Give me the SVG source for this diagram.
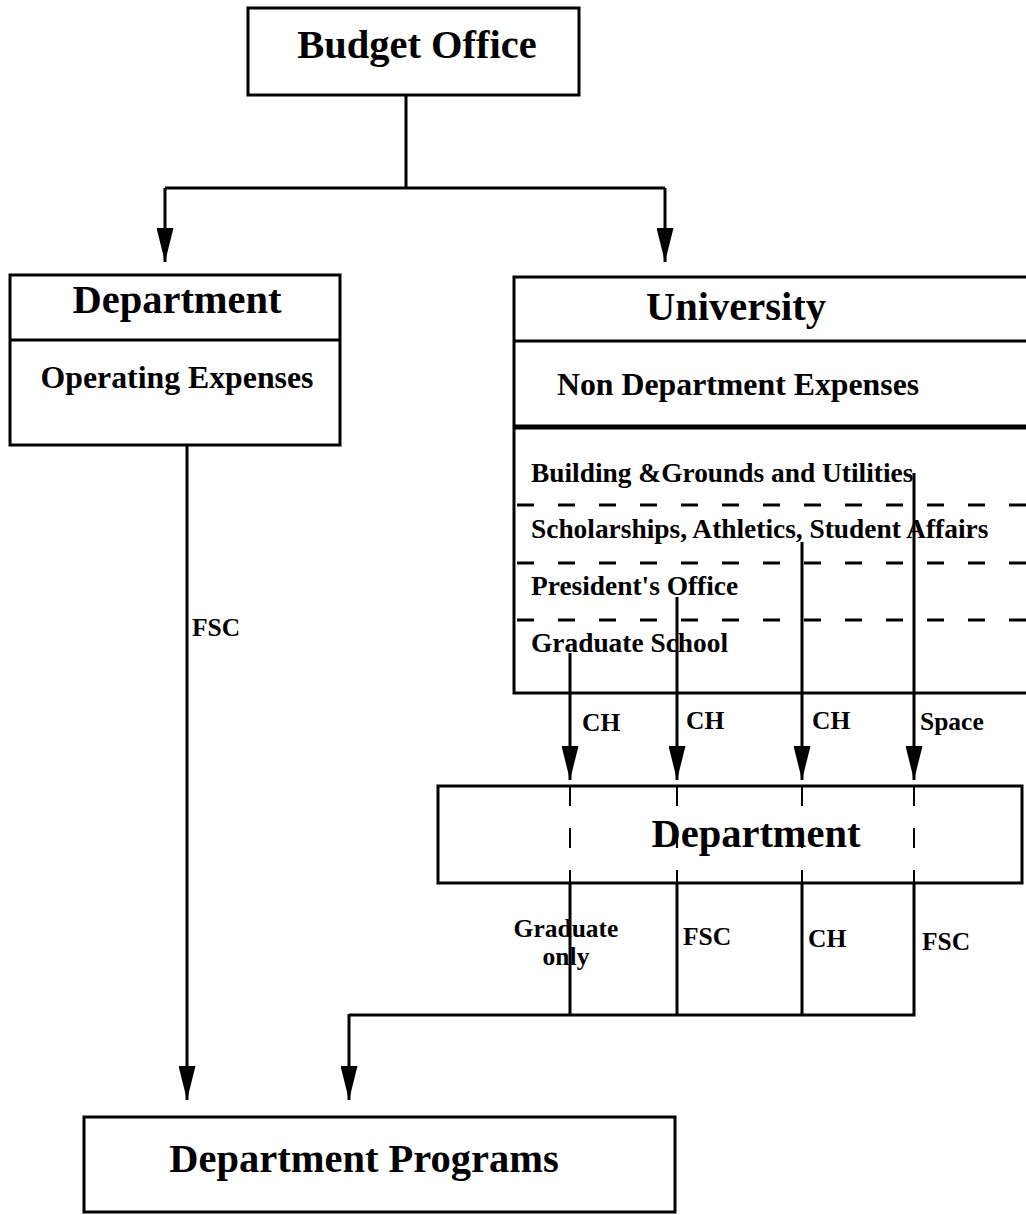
<svg xmlns="http://www.w3.org/2000/svg" width="1026" height="1215" viewBox="0 0 1026 1215">
<style>
  .box { fill: #fff; stroke: #000; stroke-width: 3; }
  .ln { fill: none; stroke: #000; stroke-width: 3; }
  .dash { fill: none; stroke: #000; stroke-width: 3; stroke-dasharray: 17 24; }
  .vdash { fill: none; stroke: #000; stroke-width: 2; stroke-dasharray: 20 22; }
  text { font-family: "Liberation Serif", "Times New Roman", serif; font-weight: bold; fill: #000; }
  .big { font-size: 40.5px; }
  .mid { font-size: 31.8px; }
  .sm { font-size: 27.4px; }
  .lab { font-size: 25.5px; }
</style>
<defs>
  <marker id="ah" markerUnits="userSpaceOnUse" markerWidth="34" markerHeight="17" refX="34" refY="8.5" orient="auto" viewBox="0 0 34 17">
    <path d="M0,0 L34,8.5 L0,17 z" fill="#000"/>
  </marker>
</defs>
<rect width="1026" height="1215" fill="#fff"/>

<g id="budget-office">
  <rect class="box" x="248" y="8" width="331" height="87"/>
  <text class="big" x="417" y="58" text-anchor="middle">Budget Office</text>
</g>

<g id="department-left">
  <rect class="box" x="10" y="275" width="330" height="170"/>
  <line class="ln" x1="10" y1="340" x2="340" y2="340"/>
  <text class="big" x="177" y="313" text-anchor="middle">Department</text>
  <text class="mid" x="177" y="388" text-anchor="middle">Operating Expenses</text>
</g>

<g id="university">
  <rect class="box" x="514" y="277" width="520" height="416"/>
  <line class="ln" x1="514" y1="341" x2="1030" y2="341"/>
  <line class="ln" x1="514" y1="427" x2="1030" y2="427" style="stroke-width:5"/>
  <line class="dash" x1="517" y1="505" x2="1030" y2="505"/>
  <line class="dash" x1="517" y1="563" x2="1030" y2="563"/>
  <line class="dash" x1="517" y1="620" x2="1030" y2="620"/>
  <text class="big" x="736" y="320" text-anchor="middle">University</text>
  <text class="mid" x="557" y="395">Non Department Expenses</text>
  <text class="sm" x="531" y="482">Building &amp;Grounds and Utilities</text>
  <text class="sm" x="531" y="538">Scholarships, Athletics, Student Affairs</text>
  <text class="sm" x="531" y="595">President's Office</text>
  <text class="sm" x="531" y="652">Graduate School</text>
</g>

<g id="department-middle">
  <rect class="box" x="438" y="786" width="584" height="97"/>
  <line class="vdash" x1="570" y1="786" x2="570" y2="883"/>
  <line class="vdash" x1="677" y1="786" x2="677" y2="883"/>
  <line class="vdash" x1="802" y1="786" x2="802" y2="883"/>
  <line class="vdash" x1="914" y1="786" x2="914" y2="883"/>
  <text class="big" x="756" y="847" text-anchor="middle">Department</text>
</g>

<g id="department-programs">
  <rect class="box" x="84" y="1117" width="591" height="95"/>
  <text class="big" x="364" y="1172" text-anchor="middle">Department Programs</text>
</g>

<g id="connectors">
  <polyline class="ln" points="406,95 406,188"/>
  <polyline class="ln" points="165,188 665,188"/>
  <line class="ln" x1="165" y1="188" x2="165" y2="262" marker-end="url(#ah)"/>
  <line class="ln" x1="665" y1="188" x2="665" y2="262" marker-end="url(#ah)"/>
  <line class="ln" x1="187" y1="445" x2="187" y2="1100" marker-end="url(#ah)"/>
  <line class="ln" x1="570" y1="653" x2="570" y2="780" marker-end="url(#ah)"/>
  <line class="ln" x1="677" y1="597" x2="677" y2="780" marker-end="url(#ah)"/>
  <line class="ln" x1="802" y1="542" x2="802" y2="780" marker-end="url(#ah)"/>
  <line class="ln" x1="914" y1="473" x2="914" y2="780" marker-end="url(#ah)"/>
  <line class="ln" x1="570" y1="883" x2="570" y2="1015"/>
  <line class="ln" x1="677" y1="883" x2="677" y2="1015"/>
  <line class="ln" x1="802" y1="883" x2="802" y2="1015"/>
  <polyline class="ln" points="914,883 914,1015 349,1015"/>
  <line class="ln" x1="349" y1="1014" x2="349" y2="1100" marker-end="url(#ah)"/>
  <text class="lab" x="192" y="636">FSC</text>
  <text class="lab" x="582" y="731">CH</text>
  <text class="lab" x="686" y="729">CH</text>
  <text class="lab" x="812" y="729">CH</text>
  <text class="lab" x="920" y="730">Space</text>
  <text class="lab" x="566" y="937" text-anchor="middle">Graduate</text>
  <text class="lab" x="566" y="965" text-anchor="middle">only</text>
  <text class="lab" x="683" y="945">FSC</text>
  <text class="lab" x="808" y="947">CH</text>
  <text class="lab" x="922" y="950">FSC</text>
</g>
</svg>
